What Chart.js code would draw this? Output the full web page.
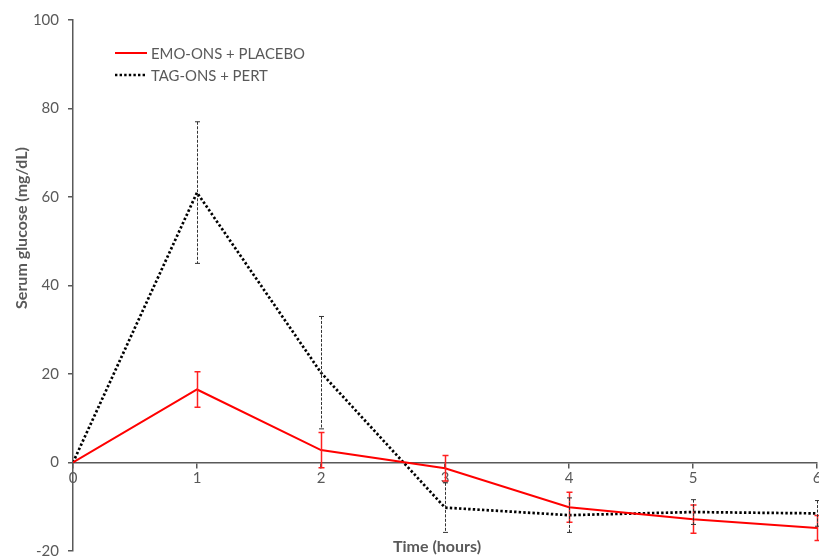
<!DOCTYPE html>
<html>
<head>
<meta charset="utf-8">
<script src="https://cdn.jsdelivr.net/npm/chart.js@4.4.1/dist/chart.umd.min.js"></script>
<style>
  html, body { margin: 0; padding: 0; background: #ffffff; }
  #wrap { width: 819px; height: 556px; position: relative; }
</style>
</head>
<body>
<div id="wrap"><canvas id="c" width="819" height="556"></canvas></div>
<script>
// ---- data ----
const hours = [0, 1, 2, 3, 4, 5, 6];
const emoLabel = 'EMO-ONS + PLACEBO';
const tagLabel = 'TAG-ONS + PERT';
const emoMean = [0, 16.5, 2.8, -1.3, -10.1, -12.8, -14.8];
const emoErr  = [0, 4.0, 4.0, 2.9, 3.4, 3.2, 2.8];
const tagMean = [0, 61.0, 20.3, -10.2, -11.9, -11.2, -11.5];
const tagErr  = [0, 16.0, 12.7, 5.6, 3.9, 2.8, 2.9];
const yTicks  = [-20, 0, 20, 40, 60, 80, 100];
const xTitle = 'Time (hours)';
const yTitle = 'Serum glucose (mg/dL)';

const AXIS = '#595959';
const FONT = 'Lato, "Liberation Sans", sans-serif';

const toPts = (xs, ys) => xs.map((x, i) => ({ x: x, y: ys[i] }));

const errorBars = {
  id: 'errorBars',
  afterDatasetsDraw(chart) {
    const ctx = chart.ctx;
    const xs = chart.scales.x, ys = chart.scales.y;
    chart.data.datasets.forEach((ds, di) => {
      const errs = ds.errors;
      if (!errs) return;
      ctx.save();
      ctx.strokeStyle = ds.errColor;
      ctx.lineWidth = ds.errWidth;
      ctx.setLineDash(ds.errDash);
      ds.data.forEach((p, i) => {
        const e = errs[i];
        if (!e) return;
        const px = Math.round(xs.getPixelForValue(p.x)) + 0.5;
        const top = ys.getPixelForValue(p.y + e);
        const bot = ys.getPixelForValue(p.y - e);
        ctx.beginPath();
        ctx.moveTo(px, top); ctx.lineTo(px, bot);
        ctx.stroke();
        ctx.setLineDash([]);
        ctx.beginPath();
        ctx.moveTo(px - ds.capW, top); ctx.lineTo(px + ds.capW, top);
        ctx.moveTo(px - ds.capW, bot); ctx.lineTo(px + ds.capW, bot);
        ctx.stroke();
        ctx.setLineDash(ds.errDash);
      });
      ctx.restore();
    });
  }
};

const decor = {
  id: 'decor',
  afterDraw(chart) {
    const ctx = chart.ctx;
    ctx.save();
    // legend
    const items = chart.data.datasets;
    const lx0 = 115, lx1 = 147, ly0 = 53, dy = 22;
    items.forEach((ds, i) => {
      const y = ly0 + i * dy;
      ctx.strokeStyle = ds.borderColor;
      ctx.lineWidth = ds.borderWidth;
      ctx.setLineDash(ds.borderDash || []);
      ctx.beginPath();
      ctx.moveTo(lx0, y); ctx.lineTo(lx1, y);
      ctx.stroke();
      ctx.setLineDash([]);
      ctx.fillStyle = AXIS;
      ctx.font = '14.9px ' + FONT;
      ctx.textAlign = 'left';
      ctx.textBaseline = 'middle';
      ctx.fillText(ds.label, lx1 + 4, y + 1);
    });
    // axis titles
    ctx.fillStyle = AXIS;
    ctx.font = 'bold 16px ' + FONT;
    ctx.textAlign = 'center';
    ctx.textBaseline = 'middle';
    ctx.fillText(xTitle, 437, 547);
    ctx.translate(22, 228);
    ctx.rotate(-Math.PI / 2);
    ctx.fillText(yTitle, 0, 0);
    ctx.restore();
  }
};

new Chart(document.getElementById('c'), {
  type: 'line',
  data: {
    datasets: [
      {
        label: emoLabel,
        data: toPts(hours, emoMean),
        errors: emoErr,
        borderColor: '#ff0000',
        borderWidth: 2,
        pointRadius: 0,
        tension: 0,
        errColor: '#ff2020',
        errWidth: 1.5,
        errDash: [],
        capW: 3
      },
      {
        label: tagLabel,
        data: toPts(hours, tagMean),
        errors: tagErr,
        borderColor: '#000000',
        borderWidth: 2.7,
        borderDash: [2.4, 2.2],
        pointRadius: 0,
        tension: 0,
        errColor: '#333333',
        errWidth: 1,
        errDash: [3, 1.5],
        capW: 2.5
      }
    ]
  },
  options: {
    responsive: false,
    animation: false,
    layout: { padding: { left: 0, right: 2, top: 20, bottom: 5 } },
    plugins: {
      legend: { display: false },
      tooltip: { enabled: false }
    },
    scales: {
      x: {
        type: 'linear',
        position: { y: 0 },
        min: 0, max: 6,
        ticks: {
          stepSize: 1,
          color: AXIS,
          font: { family: FONT, size: 15 },
          padding: 2,
          maxRotation: 0
        },
        grid: { drawOnChartArea: false, drawTicks: true, tickLength: 5, color: AXIS, lineWidth: 1.5 },
        border: { display: true, color: AXIS, width: 1.5 },
        afterFit(s) { s.paddingLeft = 0; s.paddingRight = 0; }
      },
      y: {
        type: 'linear',
        position: 'left',
        min: -20, max: 100,
        afterBuildTicks(s) { s.ticks = yTicks.map(v => ({ value: v })); },
        ticks: {
          color: AXIS,
          font: { family: FONT, size: 15 },
          padding: 9
        },
        grid: { drawOnChartArea: false, drawTicks: true, tickLength: 5, color: AXIS, lineWidth: 1.5 },
        border: { display: true, color: AXIS, width: 1.5 },
        afterFit(s) { s.width = 73; s.paddingTop = 0; s.paddingBottom = 0; }
      }
    }
  },
  plugins: [errorBars, decor]
});
</script>
</body>
</html>
